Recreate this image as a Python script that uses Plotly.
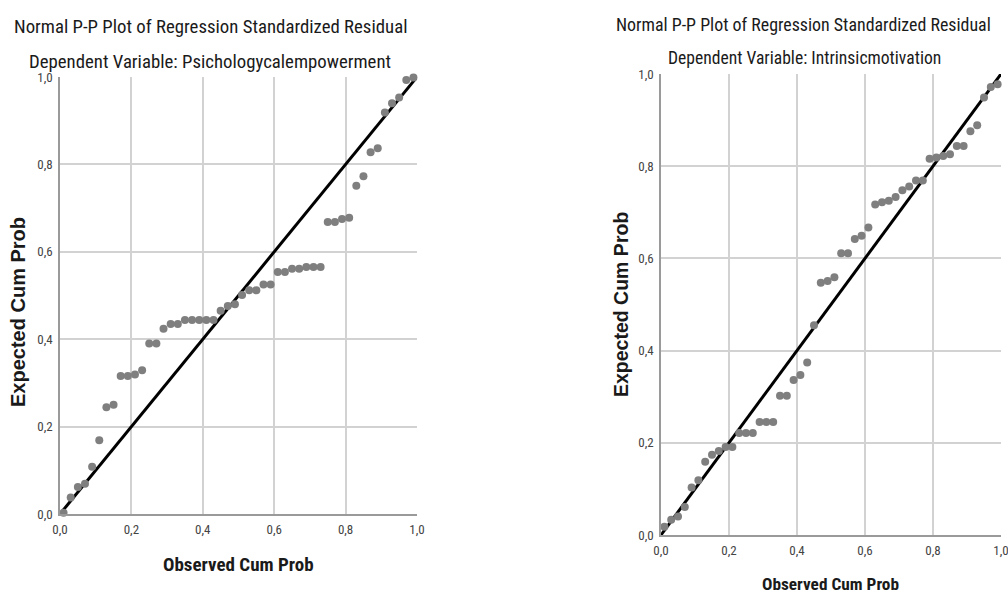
import plotly.graph_objects as go

W, H = 1008, 595

# ---- data ----
obs_left = [(2 * i - 1) / 100 for i in range(1, 51)]
exp_left = [0.003, 0.038, 0.062, 0.069, 0.108, 0.169, 0.244, 0.250, 0.316, 0.316,
            0.319, 0.329, 0.390, 0.390, 0.424, 0.435, 0.435, 0.444, 0.444, 0.444,
            0.444, 0.444, 0.465, 0.476, 0.480, 0.501, 0.512, 0.512, 0.525, 0.525,
            0.554, 0.554, 0.561, 0.561, 0.565, 0.565, 0.565, 0.668, 0.668, 0.675,
            0.678, 0.751, 0.773, 0.828, 0.837, 0.919, 0.940, 0.953, 0.993, 0.999]

obs_right = [(2 * i - 1) / 100 for i in range(1, 51)]
exp_right = [0.018, 0.033, 0.040, 0.061, 0.103, 0.119, 0.159, 0.174, 0.182, 0.191,
             0.191, 0.221, 0.221, 0.221, 0.245, 0.245, 0.245, 0.302, 0.302, 0.336,
             0.347, 0.374, 0.455, 0.547, 0.551, 0.559, 0.611, 0.611, 0.642, 0.649,
             0.667, 0.717, 0.722, 0.725, 0.733, 0.748, 0.756, 0.769, 0.769, 0.816,
             0.819, 0.822, 0.826, 0.844, 0.844, 0.876, 0.889, 0.949, 0.972, 0.978]

ref_line = [0.0, 1.0]
tick_vals = [0.0, 0.2, 0.4, 0.6, 0.8, 1.0]

title_main = "Normal P-P Plot of Regression Standardized Residual"
sub_left = "Dependent Variable: Psichologycalempowerment"
sub_right = "Dependent Variable: Intrinsicmotivation"
xlab = "Observed Cum Prob"
ylab = "Expected Cum Prob"

FONT = "Roboto Condensed, Liberation Sans Narrow, Arial Narrow, Liberation Sans, sans-serif"
BOLD = "Liberation Sans, Arial, sans-serif"


def px_x(p):
    return p / W


def px_y(p):
    return 1 - p / H


fig = go.Figure()

for obs, exp, xa, ya in [(obs_left, exp_left, "x", "y"), (obs_right, exp_right, "x2", "y2")]:
    fig.add_trace(go.Scatter(x=ref_line, y=ref_line, mode="lines",
                             line=dict(color="black", width=3),
                             xaxis=xa, yaxis=ya, showlegend=False, hoverinfo="skip"))
    fig.add_trace(go.Scatter(x=obs, y=exp, mode="markers",
                             marker=dict(color="#7f7f7f", size=8, line=dict(width=0)),
                             xaxis=xa, yaxis=ya, showlegend=False, cliponaxis=False))

axis_common = dict(range=[0, 1], tickvals=tick_vals, tickformat=".1f",
                   showgrid=True, gridcolor="#d2d2d2", gridwidth=1.5,
                   zeroline=False, showline=True, linecolor="#9a9a9a", linewidth=1.5,
                   ticks="", tickfont=dict(family=FONT, size=13, color="#444444"),
                   automargin=False, ticklabelstandoff=3, ticklabeloverflow="allow",
                   fixedrange=True)

fig.update_layout(
    width=W, height=H,
    margin=dict(l=0, r=0, t=0, b=0),
    paper_bgcolor="white", plot_bgcolor="white",
    separators=",.",
    xaxis=dict(domain=[px_x(60), px_x(417)], anchor="y", **axis_common),
    yaxis=dict(domain=[px_y(514), px_y(77)], anchor="x", **axis_common),
    xaxis2=dict(domain=[px_x(661), px_x(1001)], anchor="y2", **axis_common),
    yaxis2=dict(domain=[px_y(535), px_y(74)], anchor="x2", **axis_common),
)

annots = [
    (title_main, 210, 27, 18.8, FONT, 0),
    (sub_left, 210, 62, 18.8, FONT, 0),
    (title_main, 803, 25, 17.9, FONT, 0),
    (sub_right, 804, 58, 17.6, FONT, 0),
    ("<b>" + ylab + "</b>", 18, 312, 20, BOLD, -90),
    ("<b>" + ylab + "</b>", 621, 305, 19.5, BOLD, -90),
    ("<b>" + xlab + "</b>", 238, 564, 19, FONT, 0),
    ("<b>" + xlab + "</b>", 830, 584, 17.3, FONT, 0),
]
for text, x, y, size, fam, ang in annots:
    fig.add_annotation(text=text, x=px_x(x), y=px_y(y), xref="paper", yref="paper",
                       xanchor="center", yanchor="middle", showarrow=False,
                       textangle=ang, font=dict(family=fam, size=size, color="#1a1a1a"))

# remove the page's default body margin so the figure fills the window exactly
fig.write_html("out.html",
               config={"displayModeBar": False},
               post_script="document.body.style.margin='0';document.body.style.overflow='hidden';")
